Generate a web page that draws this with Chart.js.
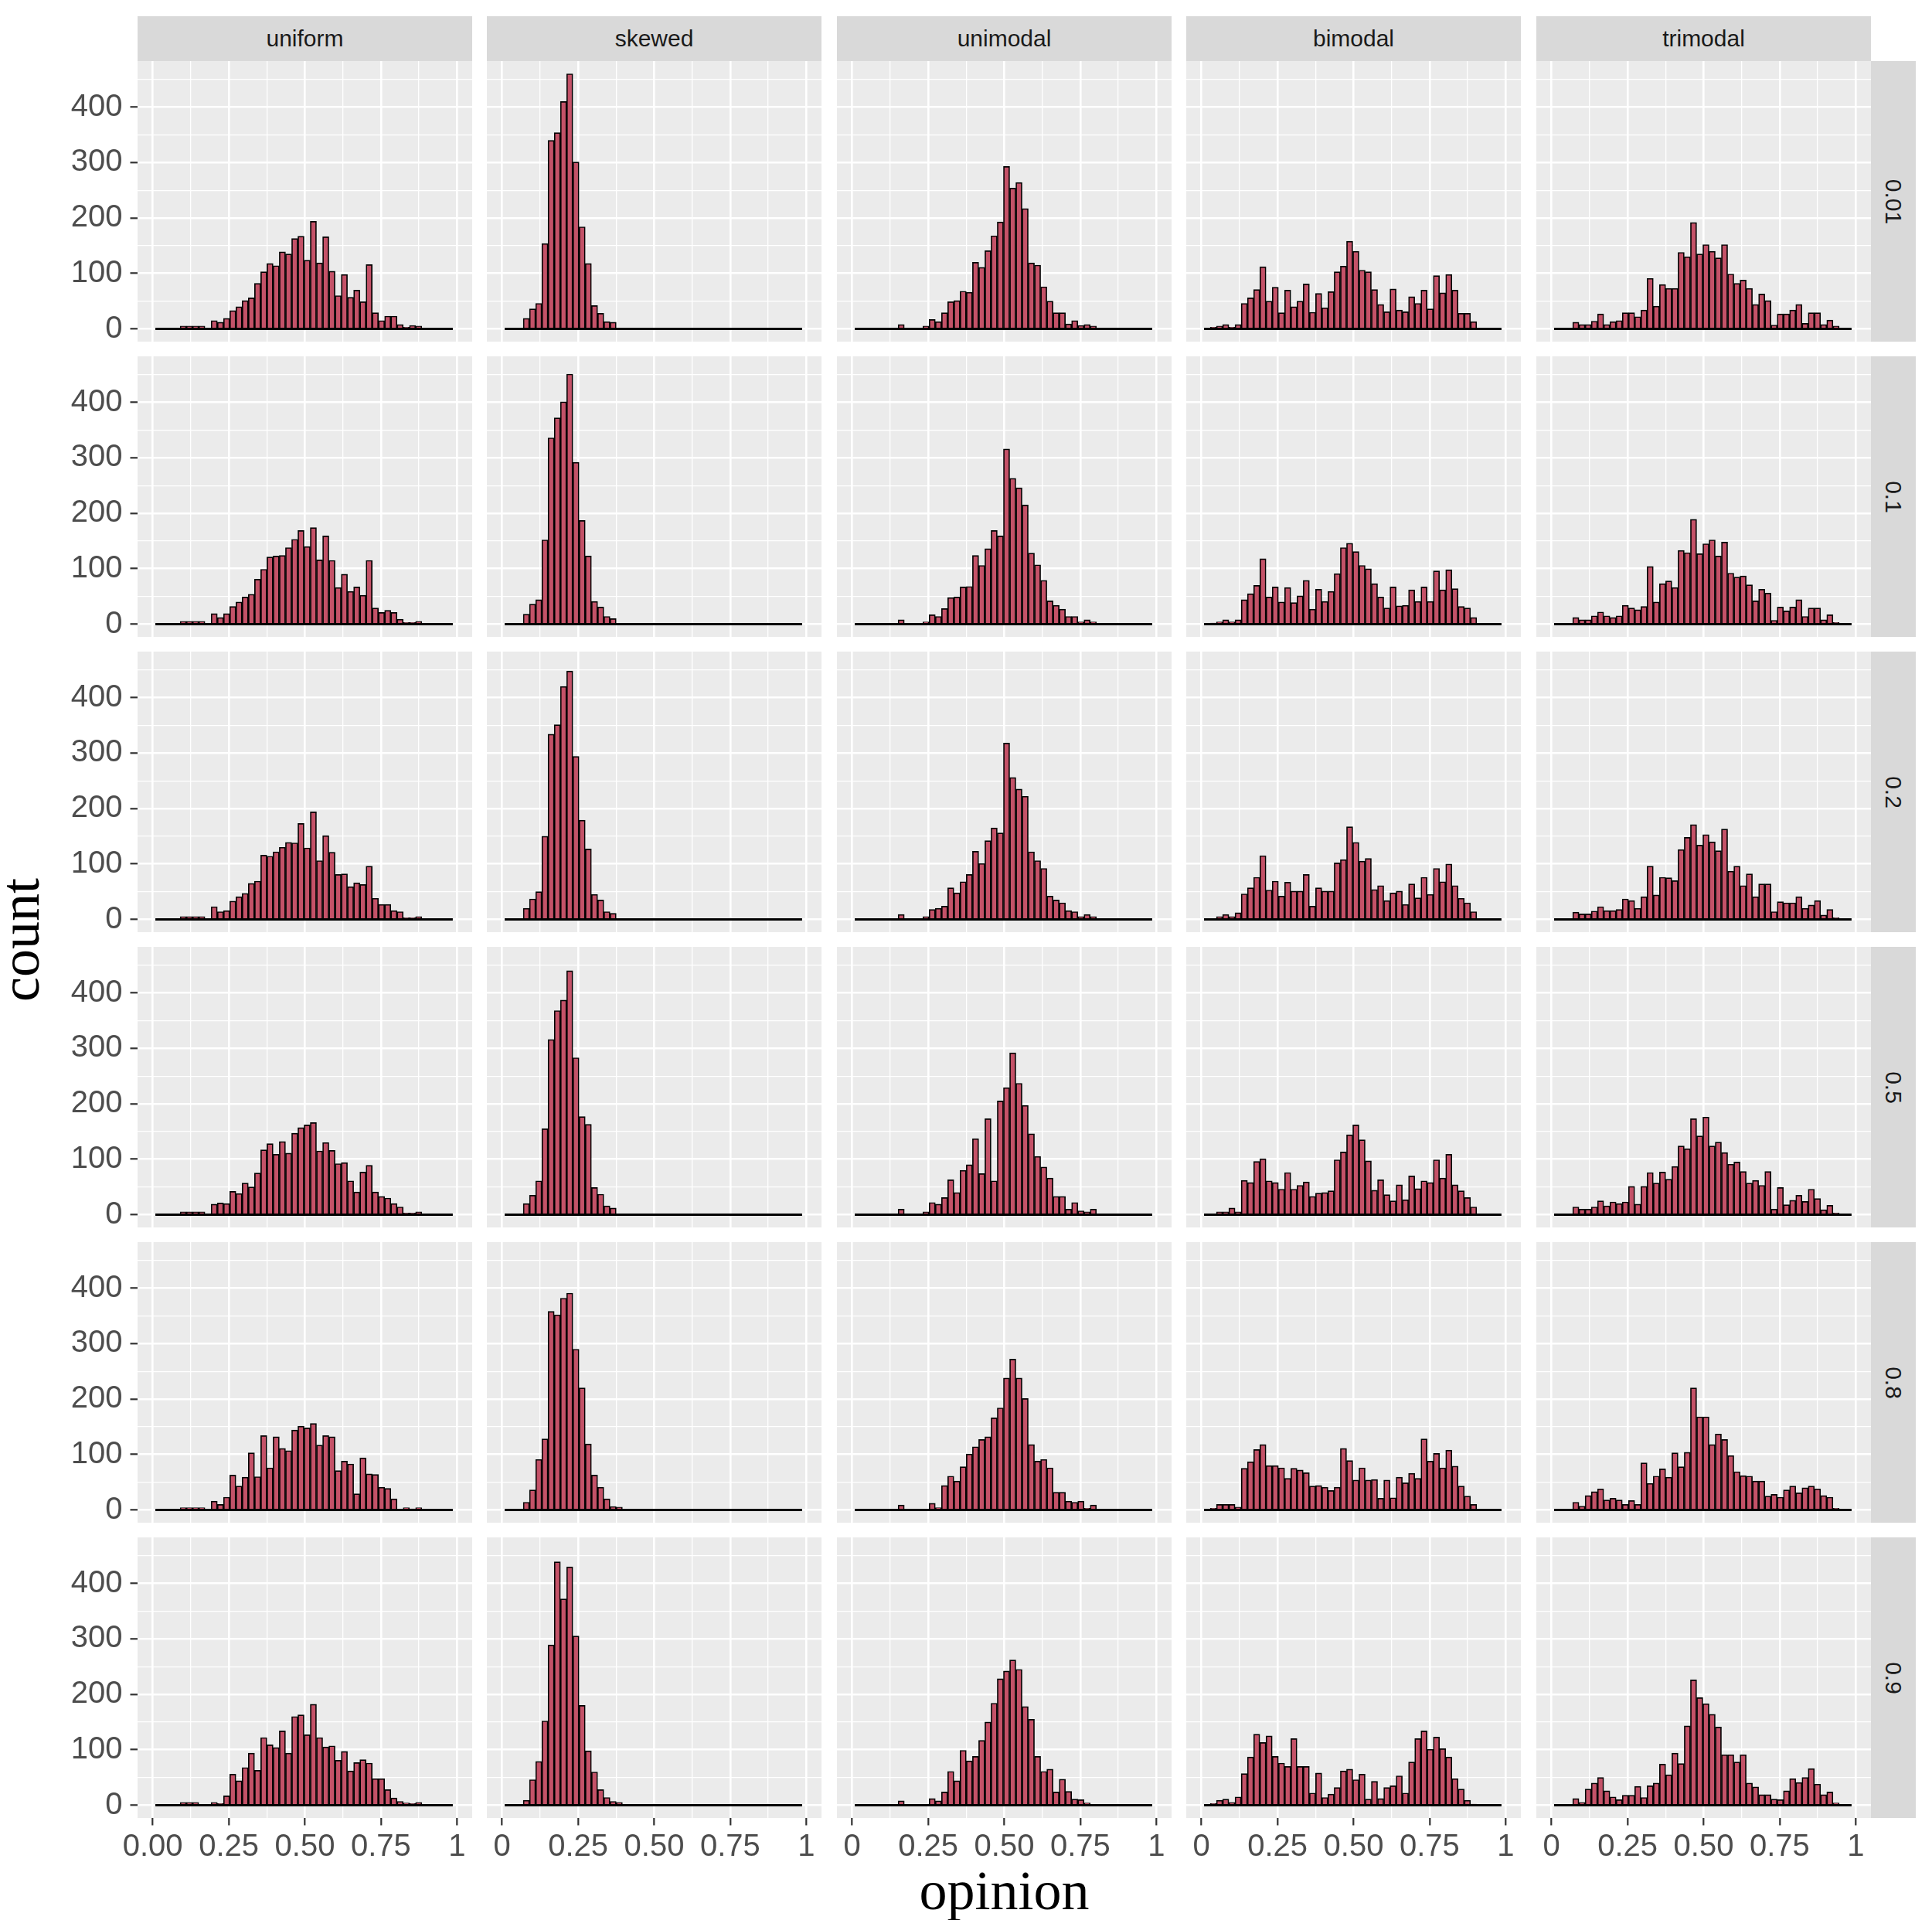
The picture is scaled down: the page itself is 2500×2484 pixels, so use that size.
<!DOCTYPE html>
<html lang="en">
<head>
  <meta charset="UTF-8">
  <title>Opinion histograms</title>
  <script src="https://cdn.jsdelivr.net/npm/chart.js"></script>
  <style>
    body { margin: 0; background: #ffffff; }
    #page {
      position: relative;
      width: 2500px;
      height: 2484px;
      overflow: hidden;
      font-family: "Liberation Sans", Arial, sans-serif;
    }
    #page canvas { position: absolute; }
    .strip {
      position: absolute;
      background: #d9d9d9;
      color: #1a1a1a;
      font-size: 30px;
      display: flex;
      align-items: center;
      justify-content: center;
    }
    .strip.right span { transform: rotate(90deg); white-space: nowrap; }
    .axis-title {
      position: absolute;
      font-family: "Liberation Serif", "DejaVu Serif", serif;
      font-size: 72px;
      line-height: 72px;
      color: #000000;
      white-space: nowrap;
    }
  </style>
</head>
<body>

<div id="page"></div>

<script>
  // facets
  const distributions = ['uniform', 'skewed', 'unimodal', 'bimodal', 'trimodal'];
  const noiseLevels = ['0.01', '0.1', '0.2', '0.5', '0.8', '0.9'];

  // axis ticks
  const xMajorTicks = [0, 0.25, 0.5, 0.75, 1];
  const xMinorTicks = [0.125, 0.375, 0.625, 0.875];
  const xLabelsFirst = ['0.00', '0.25', '0.50', '0.75', '1'];
  const xLabelsOther = ['0', '0.25', '0.50', '0.75', '1'];
  const yMajorTicks = [0, 100, 200, 300, 400];
  const yMinorTicks = [50, 150, 250, 350, 450];

  // 48 histogram bins
  const binStart = 0.0085;
  const binWidth = 0.02037;

  // counts per bin, one row per noise level
  const uniform = [
    [0,0,0,0,5,5,5,5,0,15,12,19,33,40,51,56,82,103,118,114,139,135,163,167,124,194,119,166,104,60,98,57,70,49,116,29,15,23,23,8,3,6,5,0,0,0,0,0],
    [0,0,0,0,5,5,5,5,0,19,12,19,32,40,49,54,81,99,121,123,124,138,153,169,140,174,116,159,115,66,90,59,67,52,115,29,21,25,21,9,3,3,5,0,0,0,0,0],
    [0,0,0,0,5,5,5,5,0,23,14,16,33,41,47,65,69,116,114,122,130,139,138,173,129,194,106,151,121,81,82,59,66,63,96,38,27,27,16,14,3,3,5,0,0,0,0,0],
    [0,0,0,0,5,5,5,5,0,19,21,20,42,38,57,50,75,117,128,109,132,111,147,157,162,166,115,130,116,92,94,61,41,77,89,41,33,30,20,14,3,3,5,0,0,0,0,0],
    [0,0,0,0,4,4,4,4,0,16,10,23,63,43,59,103,60,134,76,132,111,107,144,151,148,156,117,134,132,71,88,83,29,94,65,64,41,39,20,0,4,2,4,0,0,0,0,0],
    [0,0,0,0,5,5,5,0,0,5,3,17,56,44,68,94,63,122,109,104,134,94,160,163,127,182,122,105,107,81,97,62,77,82,76,48,48,28,13,7,4,3,5,0,0,0,0,0]
  ];
  const skewed = [
    [0,0,0,19,36,46,154,340,354,410,460,301,184,118,42,28,13,12,0,0,0,0,0,0,0,0,0,0,0,0,0,0,0,0,0,0,0,0,0,0,0,0,0,0,0,0,0,0],
    [0,0,0,18,36,44,152,336,372,401,451,292,187,123,41,31,14,10,0,0,0,0,0,0,0,0,0,0,0,0,0,0,0,0,0,0,0,0,0,0,0,0,0,0,0,0,0,0],
    [0,0,0,20,37,50,150,334,351,420,448,294,179,127,45,35,14,11,0,0,0,0,0,0,0,0,0,0,0,0,0,0,0,0,0,0,0,0,0,0,0,0,0,0,0,0,0,0],
    [0,0,0,20,35,61,155,316,368,387,440,283,177,163,49,37,16,12,0,0,0,0,0,0,0,0,0,0,0,0,0,0,0,0,0,0,0,0,0,0,0,0,0,0,0,0,0,0],
    [0,0,0,14,36,91,128,358,352,382,391,290,220,119,63,41,20,6,5,0,0,0,0,0,0,0,0,0,0,0,0,0,0,0,0,0,0,0,0,0,0,0,0,0,0,0,0,0],
    [0,0,0,9,46,79,152,289,439,372,430,305,180,98,60,28,14,7,5,0,0,0,0,0,0,0,0,0,0,0,0,0,0,0,0,0,0,0,0,0,0,0,0,0,0,0,0,0]
  ];
  const unimodal = [
    [0,0,0,0,0,0,0,8,0,0,0,5,17,13,29,49,51,68,66,120,111,141,168,193,293,254,264,217,119,115,76,50,29,29,9,15,6,8,5,0,0,0,0,0,0,0,0,0],
    [0,0,0,0,0,0,0,8,0,0,0,4,17,14,28,48,49,67,68,124,106,136,169,159,316,263,246,215,128,107,79,42,34,27,14,14,4,8,4,0,0,0,0,0,0,0,0,0],
    [0,0,0,0,0,0,0,9,0,0,0,5,18,20,24,57,48,68,81,123,101,142,165,156,318,256,235,222,122,106,92,42,35,30,16,14,5,9,5,0,0,0,0,0,0,0,0,0],
    [0,0,0,0,0,0,0,10,0,0,0,5,22,19,31,63,40,80,90,137,74,173,61,205,229,292,237,197,146,105,86,66,33,33,10,22,7,5,10,0,0,0,0,0,0,0,0,0],
    [0,0,0,0,0,0,0,9,0,0,0,0,12,4,44,61,52,78,101,114,127,132,166,184,238,272,238,201,118,88,91,76,32,32,16,14,16,3,9,0,0,0,0,0,0,0,0,0],
    [0,0,0,0,0,0,0,8,0,0,0,0,12,8,24,61,44,99,80,88,117,150,184,228,242,262,245,178,155,88,61,65,24,47,25,11,10,4,0,0,0,0,0,0,0,0,0,0]
  ];
  const bimodal = [
    [0,3,5,8,3,8,46,56,71,112,50,75,29,70,40,50,81,30,64,38,67,103,113,158,140,106,103,71,44,31,72,34,31,58,46,70,36,96,65,98,70,28,28,13,0,0,0,0],
    [0,2,4,8,4,8,44,55,70,118,49,67,40,66,39,51,79,27,63,41,59,91,138,146,131,106,100,73,49,29,67,33,34,62,41,67,41,96,62,98,64,32,29,12,0,0,0,0],
    [0,1,5,9,5,12,46,57,76,115,53,69,42,67,51,51,81,24,57,51,51,102,108,167,139,105,110,54,61,34,48,51,27,64,39,76,45,92,68,100,61,38,30,14,0,0,0,0],
    [0,1,5,5,12,5,62,58,96,101,61,58,46,76,46,53,59,33,39,40,43,99,113,144,162,135,97,44,63,36,25,54,27,70,47,61,58,99,66,109,54,43,31,14,0,0,0,0],
    [0,3,10,10,10,5,75,87,109,118,80,80,76,57,75,72,67,43,44,41,35,41,111,89,54,76,54,55,21,54,22,59,49,66,57,128,88,102,76,108,79,43,25,10,0,0,0,0],
    [0,3,9,11,5,15,57,87,128,113,125,88,76,70,120,70,70,22,58,14,20,32,62,65,46,56,11,43,12,32,35,53,22,78,120,134,101,123,102,87,48,29,9,2,0,0,0,0]
  ];
  const trimodal = [
    [0,0,0,12,8,8,14,27,8,13,15,29,29,22,34,91,41,80,73,73,138,130,192,135,152,140,128,152,99,82,88,73,44,63,51,7,27,27,34,44,10,29,29,8,16,5,0,0],
    [0,0,0,12,8,8,15,22,15,12,15,34,29,26,32,104,40,73,78,66,133,129,189,127,145,152,123,148,92,85,87,71,42,63,56,7,31,24,31,44,14,29,29,8,17,3,0,0],
    [0,0,0,13,10,10,15,23,16,16,18,37,34,20,41,96,44,76,75,70,126,148,171,134,153,140,124,163,87,96,61,82,41,64,64,14,32,30,30,41,20,26,34,8,18,3,0,0],
    [0,0,0,14,10,10,14,25,16,23,20,23,51,19,51,76,57,77,64,87,124,119,173,142,176,124,131,112,91,95,78,57,62,53,78,10,49,18,26,35,24,46,29,9,17,3,0,0],
    [0,0,0,14,7,26,33,38,18,21,18,10,17,10,85,48,61,74,59,103,78,104,220,168,168,118,137,127,98,69,62,61,52,52,25,28,23,36,43,31,40,43,38,26,23,3,0,0],
    [0,0,0,12,5,29,40,50,26,15,10,18,18,34,14,35,40,74,55,94,75,143,226,194,183,164,141,91,91,78,91,40,33,19,19,11,10,26,48,41,50,66,38,19,24,4,0,0]
  ];

  const countsByDistribution = [uniform, skewed, unimodal, bimodal, trimodal];

  // layout (px)
  const panelW = 433, panelH = 363;
  const colLeft = [178, 630, 1083, 1535, 1988];
  const rowTop = [79, 461, 843, 1225, 1607, 1989];
  const stripSize = 58;
  const yAxisW = 178;
  const xAxisH = 62;

  const barFill = '#c45268';
  const tickFont = { family: 'Liberation Sans', size: 40 };

  // shared y range: 5% expansion around 0..max like ggplot
  const maxCount = Math.max(...countsByDistribution.flat(2));
  const yMin = -0.05 * maxCount;
  const yMax = 1.05 * maxCount;

  const xGrid = [...xMajorTicks, ...xMinorTicks].sort((a, b) => a - b);
  const yGrid = [...yMajorTicks, ...yMinorTicks].sort((a, b) => a - b);

  const page = document.getElementById('page');

  function isMajor(list, ctx) {
    return ctx.tick !== undefined && list.includes(ctx.tick.value);
  }

  // keep the plot area fixed: no label overhang padding from the scales
  function noScalePadding(s) {
    s.paddingTop = 0;
    s.paddingBottom = 0;
    s.paddingLeft = 0;
    s.paddingRight = 0;
  }

  function drawPanel(col, row) {
    const counts = countsByDistribution[col][row];
    const firstCol = col === 0;
    const lastRow = row === noiseLevels.length - 1;

    const canvas = document.createElement('canvas');
    const left = firstCol ? 0 : colLeft[col];
    const width = firstCol ? colLeft[0] + panelW : panelW;
    const height = lastRow ? panelH + xAxisH : panelH;
    canvas.width = width;
    canvas.height = height;
    canvas.style.left = left + 'px';
    canvas.style.top = rowTop[row] + 'px';
    canvas.style.width = width + 'px';
    canvas.style.height = height + 'px';
    page.appendChild(canvas);

    const xLabels = firstCol ? xLabelsFirst : xLabelsOther;
    const binData = counts.map((c, i) => ({ x: binStart + binWidth * (i + 0.5), y: c }));
    const baseline = [
      { x: binStart, y: 0 },
      { x: binStart + binWidth * counts.length, y: 0 }
    ];

    new Chart(canvas, {
      type: 'bar',
      data: {
        datasets: [
          {
            type: 'bar',
            data: binData,
            backgroundColor: barFill,
            borderColor: '#000000',
            borderWidth: 1.7,
            borderSkipped: 'start',
            barPercentage: 1,
            categoryPercentage: 1,
            order: 2
          },
          {
            type: 'line',
            data: baseline,
            borderColor: '#000000',
            borderWidth: 3,
            pointRadius: 0,
            order: 1
          }
        ]
      },
      options: {
        responsive: false,
        animation: false,
        events: [],
        layout: { padding: 0, autoPadding: false },
        plugins: { legend: { display: false }, tooltip: { enabled: false } },
        scales: {
          x: {
            type: 'linear',
            min: -0.05,
            max: 1.05,
            offset: false,
            afterBuildTicks: s => { s.ticks = xGrid.map(v => ({ value: v })); },
            afterFit: s => { s.height = lastRow ? xAxisH : 0; noScalePadding(s); },
            border: { display: false },
            grid: {
              offset: false,
              color: '#ffffff',
              lineWidth: ctx => isMajor(xMajorTicks, ctx) ? 2.6 : 1.3,
              drawTicks: lastRow,
              tickLength: 9.5,
              tickWidth: 2.2,
              tickColor: ctx => isMajor(xMajorTicks, ctx) ? '#333333' : 'rgba(0,0,0,0)'
            },
            ticks: {
              display: lastRow,
              autoSkip: false,
              maxRotation: 0,
              padding: 4,
              color: '#4d4d4d',
              font: tickFont,
              callback: v => {
                const k = xMajorTicks.indexOf(v);
                return k >= 0 ? xLabels[k] : '';
              }
            }
          },
          y: {
            type: 'linear',
            min: yMin,
            max: yMax,
            afterBuildTicks: s => { s.ticks = yGrid.map(v => ({ value: v })); },
            afterFit: s => { s.width = firstCol ? yAxisW : 0; noScalePadding(s); },
            border: { display: false },
            grid: {
              color: '#ffffff',
              lineWidth: ctx => isMajor(yMajorTicks, ctx) ? 2.6 : 1.3,
              drawTicks: firstCol,
              tickLength: 9.5,
              tickWidth: 2.2,
              tickColor: ctx => isMajor(yMajorTicks, ctx) ? '#333333' : 'rgba(0,0,0,0)'
            },
            ticks: {
              display: firstCol,
              autoSkip: false,
              padding: 10,
              color: '#4d4d4d',
              font: tickFont,
              callback: v => yMajorTicks.includes(v) ? String(v) : ''
            }
          }
        }
      },
      plugins: [{
        id: 'panelBackground',
        beforeDraw(chart) {
          const a = chart.chartArea;
          const c = chart.ctx;
          c.save();
          c.fillStyle = '#ebebeb';
          c.fillRect(a.left, a.top, a.right - a.left, a.bottom - a.top);
          c.restore();
        }
      }]
    });
  }

  // strips
  distributions.forEach((name, col) => {
    const d = document.createElement('div');
    d.className = 'strip';
    d.style.left = colLeft[col] + 'px';
    d.style.top = (rowTop[0] - stripSize) + 'px';
    d.style.width = panelW + 'px';
    d.style.height = stripSize + 'px';
    d.textContent = name;
    page.appendChild(d);
  });
  noiseLevels.forEach((lvl, row) => {
    const d = document.createElement('div');
    d.className = 'strip right';
    d.style.left = (colLeft[4] + panelW) + 'px';
    d.style.top = rowTop[row] + 'px';
    d.style.width = stripSize + 'px';
    d.style.height = panelH + 'px';
    const s = document.createElement('span');
    s.textContent = lvl;
    d.appendChild(s);
    page.appendChild(d);
  });

  // axis titles
  const xTitle = document.createElement('div');
  xTitle.className = 'axis-title';
  xTitle.textContent = 'opinion';
  xTitle.style.left = ((colLeft[0] + colLeft[4] + panelW) / 2) + 'px';
  xTitle.style.top = '2410px';
  xTitle.style.transform = 'translateX(-50%)';
  page.appendChild(xTitle);

  const yTitle = document.createElement('div');
  yTitle.className = 'axis-title';
  yTitle.textContent = 'count';
  yTitle.style.left = '26px';
  yTitle.style.top = ((rowTop[0] + rowTop[5] + panelH) / 2) + 'px';
  yTitle.style.transform = 'translate(-50%, -50%) rotate(-90deg)';
  page.appendChild(yTitle);

  for (let row = 0; row < noiseLevels.length; row++) {
    for (let col = 0; col < distributions.length; col++) {
      drawPanel(col, row);
    }
  }
</script>

</body>
</html>
